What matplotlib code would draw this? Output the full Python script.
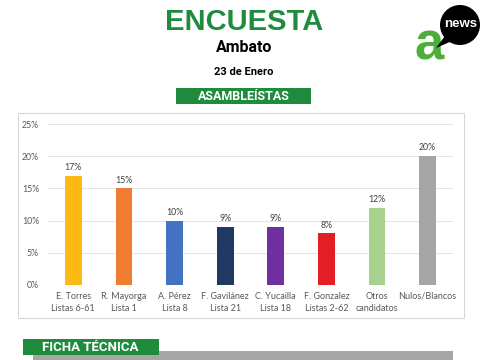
import matplotlib
matplotlib.use("Agg")
import matplotlib.pyplot as plt
from matplotlib.patches import Rectangle, Circle, Polygon
from matplotlib.ticker import FuncFormatter

categories = ["E. Torres\nListas 6-61", "R. Mayorga\nLista 1", "A. Pérez\nLista 8",
              "F. Gavilánez\nLista 21", "C. Yucailla\nLista 18", "F. Gonzalez\nListas 2-62",
              "Otros\ncandidatos", "Nulos/Blancos"]
values = [17, 15, 10, 9, 9, 8, 12, 20]
colors = ["#FDBA17", "#EE7D31", "#4472C4", "#1F3864", "#7030A0", "#E31E24", "#A9D18E", "#A5A5A5"]
yticks = [0, 5, 10, 15, 20, 25]

W, H = 485, 360
fig = plt.figure(figsize=(W / 100, H / 100), dpi=100)
fig.patch.set_facecolor("white")

ov = fig.add_axes([0, 0, 1, 1], zorder=0)
ov.set_xlim(0, W)
ov.set_ylim(H, 0)
ov.axis("off")

cond = ["Roboto", "DejaVu Sans"]
lato = ["Lato", "DejaVu Sans"]
green = "#1E8C3C"

ov.text(244, 22, "ENCUESTA", ha="center", va="center", fontsize=21, fontweight="bold",
        color=green, family=["Liberation Sans", "DejaVu Sans"])
ov.text(244, 48, "Ambato", ha="center", va="center", fontsize=11.5, fontweight="bold",
        color="black", family=cond)
ov.text(244, 72, "23 de Enero", ha="center", va="center", fontsize=8, fontweight="bold",
        color="black", family=cond)
ov.add_patch(Rectangle((176, 88), 135, 16, facecolor=green, edgecolor="none"))
ov.text(243.5, 96.5, "ASAMBLEÍSTAS", ha="center", va="center", fontsize=9, fontweight="bold",
        color="white", family=cond)

# logo
ov.add_patch(Polygon([[445, 36], [436, 48], [452, 41]], closed=True, facecolor="black",
                     edgecolor="none", zorder=3))
ov.add_patch(Circle((460, 25), 20, facecolor="black", edgecolor="none", zorder=3))
ov.text(461, 24, "news", ha="center", va="center", fontsize=9.5, fontweight="bold",
        color="white", family=["Liberation Sans", "DejaVu Sans"], zorder=4)
ov.text(429, 46, "a", ha="center", va="center", fontsize=38, fontweight="bold",
        color="#4DAF3A", family=["Liberation Sans", "DejaVu Sans"], zorder=2)

# chart frame
ov.add_patch(Rectangle((18, 113), 446, 205, facecolor="white", edgecolor="#D9D9D9", linewidth=0.8))

# ficha tecnica
ov.add_patch(Rectangle((33, 351), 420, 10, facecolor="#A6A6A6", edgecolor="none"))
ov.add_patch(Rectangle((23, 339), 136, 16, facecolor=green, edgecolor="none"))
ov.text(42, 347.5, "FICHA TÉCNICA", ha="left", va="center", fontsize=9.5, fontweight="bold",
        color="white", family=cond)

# chart axes
ax = fig.add_axes([48 / W, 1 - 285 / H, 405 / W, 161 / H], zorder=1)
ax.set_facecolor("none")
x = range(len(categories))
ax.bar(x, values, width=0.33, color=colors, zorder=2)
for xi, v in zip(x, values):
    ax.text(xi, v + 0.6, f"{v}%", ha="center", va="bottom", fontsize=6.3, color="#404040",
            family=lato)
ax.set_xlim(-0.5, len(categories) - 0.5)
ax.set_ylim(0, 25)
ax.set_yticks(yticks)
ax.yaxis.set_major_formatter(FuncFormatter(lambda v, p: f"{int(v)}%"))
ax.grid(axis="y", color="#E3E3E3", linewidth=0.7, zorder=0)
ax.set_xticks(list(x))
ax.set_xticklabels(categories, fontsize=6.5, color="#595959", family=lato, linespacing=1.45)
for lbl in ax.get_yticklabels():
    lbl.set_fontsize(6.3)
    lbl.set_color("#595959")
    lbl.set_family(lato)
ax.tick_params(axis="both", length=0)
ax.tick_params(axis="x", pad=5)
ax.tick_params(axis="y", pad=6.5)
for s in ax.spines.values():
    s.set_visible(False)
ax.axhline(0, color="#D9D9D9", linewidth=0.7, zorder=1)

fig.savefig("out.png", dpi=100, facecolor="white")
